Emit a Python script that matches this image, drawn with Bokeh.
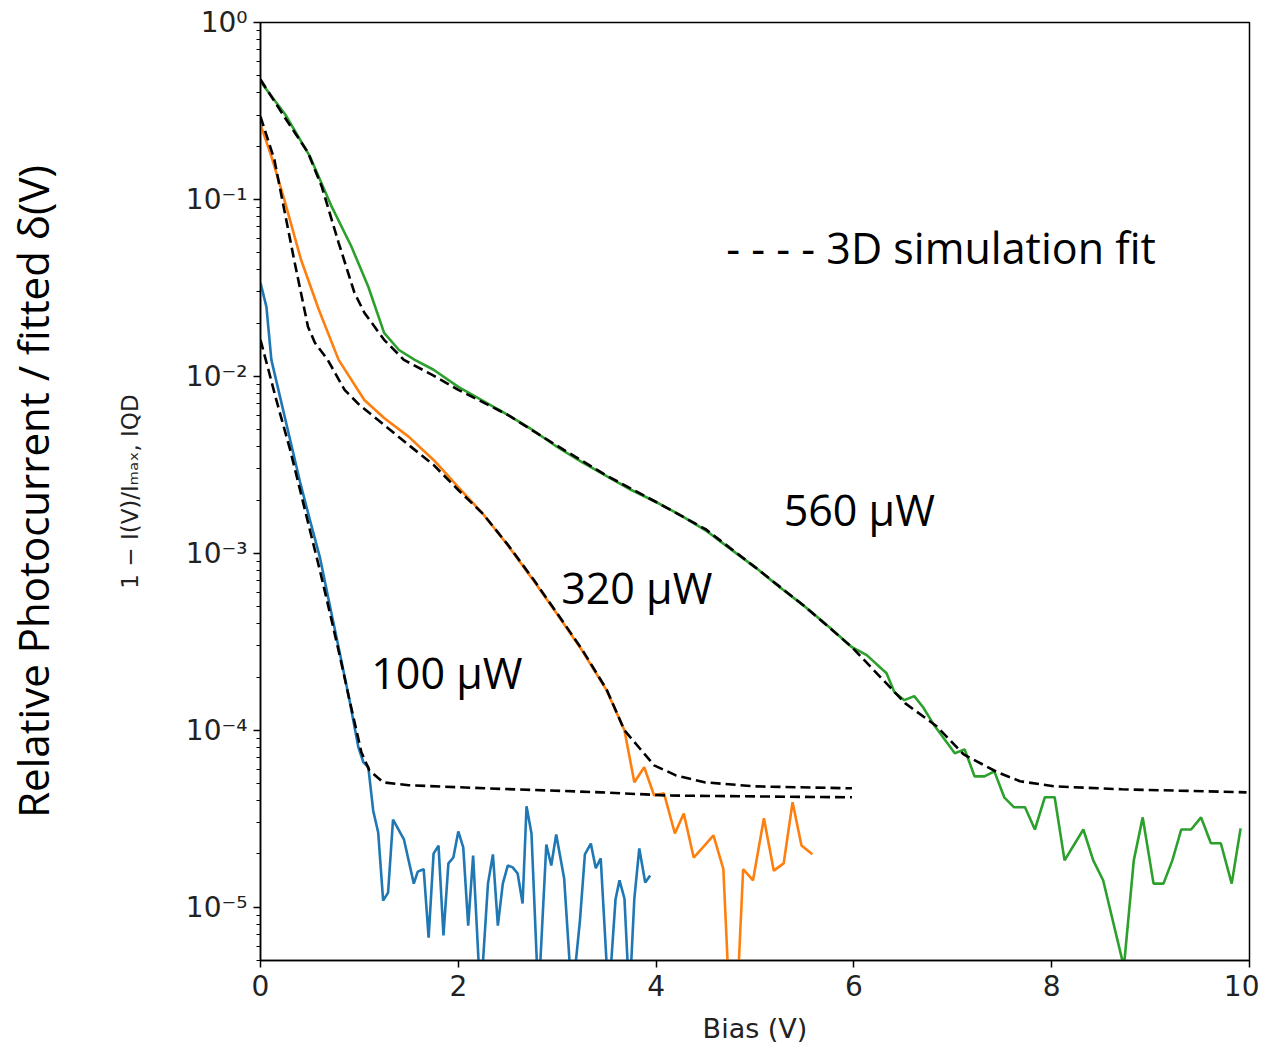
from bokeh.plotting import figure
from bokeh.models import Range1d, FixedTicker, LogTicker, CustomJSTickFormatter, LogAxis, Label
from bokeh.embed import file_html
from bokeh.resources import INLINE

# ---------------- data ----------------
x_ticks = [0, 2, 4, 6, 8, 10]
y_decades = [1e-5, 1e-4, 1e-3, 1e-2, 1e-1, 1.0]

# 100 uW measured
blue_v = [0.0, 0.06, 0.11, 0.2, 0.3, 0.4, 0.5, 0.6, 0.7, 0.8,
          0.9, 0.99, 1.04, 1.09, 1.14, 1.19, 1.24, 1.29, 1.34, 1.40,
          1.45, 1.55, 1.59, 1.65, 1.70, 1.75, 1.80, 1.85, 1.90, 1.95,
          2.00, 2.05, 2.10, 2.15, 2.225, 2.30, 2.35, 2.40, 2.45, 2.50,
          2.55, 2.60, 2.65, 2.69, 2.74, 2.81, 2.89, 2.94, 2.99, 3.07,
          3.15, 3.23, 3.28, 3.34, 3.39, 3.44, 3.52, 3.59, 3.63, 3.68,
          3.73, 3.78, 3.83, 3.89, 3.94]
blue_y = [0.0338, 0.0247, 0.0124, 0.00756, 0.00437, 0.00253, 0.00154, 0.000953, 0.00051, 0.000276,
          0.000148, 8.0e-5, 6.6e-5, 6.2e-5, 3.5e-5, 2.65e-5, 1.09e-5, 1.21e-5, 3.13e-5, 2.72e-5,
          2.42e-5, 1.36e-5, 1.59e-5, 1.64e-5, 6.74e-6, 2.01e-5, 2.23e-5, 6.92e-6, 1.77e-5, 1.91e-5,
          2.68e-5, 2.18e-5, 7.88e-6, 1.96e-5, 3.0e-6, 1.36e-5, 1.99e-5, 7.88e-6, 1.36e-5, 1.72e-5,
          1.68e-5, 1.55e-5, 1.05e-5, 3.72e-5, 2.61e-5, 3.0e-6, 2.26e-5, 1.72e-5, 2.58e-5, 1.46e-5,
          3.0e-6, 8.41e-6, 1.99e-5, 2.29e-5, 1.66e-5, 1.89e-5, 3.0e-6, 1.11e-5, 1.42e-5, 1.12e-5,
          3.0e-6, 1.12e-5, 2.15e-5, 1.38e-5, 1.51e-5]

# 320 uW measured
orange_v = [0.0, 0.11, 0.24, 0.41, 0.59, 0.79, 1.05, 1.25, 1.5, 1.75,
            2.0, 2.25, 2.5, 2.75, 3.0, 3.25, 3.5, 3.68, 3.78, 3.88,
            3.98, 4.08, 4.19, 4.28, 4.38, 4.48, 4.58, 4.68, 4.78, 4.88,
            4.98, 5.09, 5.19, 5.29, 5.38, 5.47, 5.58]
orange_y = [0.265, 0.175, 0.100, 0.0456, 0.0238, 0.0124, 0.00736, 0.00582, 0.00455, 0.00337,
            0.00237, 0.00167, 0.00111, 0.000715, 0.000453, 0.000283, 0.000168, 0.0001, 5.08e-5, 6.18e-5,
            4.28e-5, 4.4e-5, 2.61e-5, 3.39e-5, 1.91e-5, 2.2e-5, 2.55e-5, 1.64e-5, 1.0e-6, 1.64e-5,
            1.42e-5, 3.18e-5, 1.61e-5, 1.77e-5, 3.92e-5, 2.23e-5, 1.99e-5]

# 560 uW measured
green_v = [0.0, 0.25, 0.5, 0.72, 0.92, 1.09, 1.25, 1.4, 1.56, 1.75,
           2.0, 2.25, 2.5, 2.75, 3.0, 3.25, 3.5, 3.75, 4.0, 4.25,
           4.5, 4.75, 5.0, 5.25, 5.5, 5.75, 5.98, 6.13, 6.33, 6.41,
           6.51, 6.61, 6.70, 6.81, 7.02, 7.12, 7.22, 7.32, 7.42, 7.52,
           7.62, 7.73, 7.83, 7.93, 8.03, 8.13, 8.32, 8.42, 8.52, 8.73,
           8.83, 8.92, 9.03, 9.13, 9.22, 9.31, 9.41, 9.51, 9.61, 9.71,
           9.82, 9.91]
green_y = [0.464, 0.302, 0.175, 0.091, 0.054, 0.0321, 0.0176, 0.0141, 0.0124, 0.0109,
           0.00872, 0.00727, 0.00606, 0.00498, 0.00399, 0.00328, 0.00273, 0.00228, 0.00195, 0.00164,
           0.00135, 0.00106, 0.000836, 0.000644, 0.000503, 0.000383, 2.95e-4, 2.66e-4, 2.10e-4, 1.64e-4,
           1.48e-4, 1.56e-4, 1.35e-4, 1.07e-4, 7.41e-5, 7.80e-5, 5.49e-5, 5.49e-5, 5.86e-5, 4.18e-5,
           3.67e-5, 3.67e-5, 2.75e-5, 4.18e-5, 4.18e-5, 1.84e-5, 2.75e-5, 1.84e-5, 1.42e-5, 4.6e-6,
           1.84e-5, 3.22e-5, 1.36e-5, 1.36e-5, 1.84e-5, 2.75e-5, 2.75e-5, 3.22e-5, 2.30e-5, 2.30e-5,
           1.36e-5, 2.79e-5]

# 3D simulation fits
fit100_v = [0.0, 0.08, 0.16, 0.3, 0.4, 0.5, 0.6, 0.7, 0.8, 0.9,
            0.97, 1.02, 1.1, 1.24, 1.5, 2.27, 3.45, 4.12, 5.0, 5.98]
fit100_y = [0.0161, 0.0109, 0.00736, 0.00384, 0.00228, 0.00135, 0.000804, 0.000465, 0.000266, 0.000148,
            0.0001, 7.51e-5, 5.94e-5, 5.08e-5, 4.89e-5, 4.7e-5, 4.46e-5, 4.28e-5, 4.23e-5, 4.18e-5]

fit320_v = [0.0, 0.14, 0.24, 0.34, 0.48, 0.55, 0.68, 0.85, 1.0, 1.25,
            1.5, 1.75, 2.0, 2.25, 2.5, 2.75, 3.0, 3.25, 3.5, 3.68,
            3.98, 4.2, 4.49, 5.0, 5.98]
fit320_y = [0.294, 0.168, 0.0875, 0.0456, 0.0191, 0.0155, 0.0124, 0.00839, 0.0069, 0.00532,
            0.00409, 0.00316, 0.00228, 0.00167, 0.00112, 0.000725, 0.000458, 0.000287, 0.00017, 0.0001,
            6.34e-5, 5.56e-5, 5.08e-5, 4.82e-5, 4.7e-5]

fit560_v = [0.0, 0.24, 0.48, 0.62, 0.79, 0.95, 1.05, 1.25, 1.45, 1.75,
            2.0, 2.5, 3.0, 3.5, 4.0, 4.5, 5.0, 5.5, 5.98, 6.52,
            6.84, 7.11, 7.45, 7.68, 8.03, 8.71, 9.97]
fit560_y = [0.476, 0.294, 0.184, 0.118, 0.0569, 0.0297, 0.0229, 0.0161, 0.0124, 0.0101,
            0.0084, 0.00606, 0.00405, 0.00275, 0.00195, 0.00137, 0.000836, 0.000503, 2.95e-4, 1.42e-4,
            1.05e-4, 7.3e-5, 5.8e-5, 5.15e-5, 4.82e-5, 4.64e-5, 4.46e-5]

labels = ["100 µW", "320 µW", "560 µW"]
fit_label = "- - - - 3D simulation fit"

# ---------------- figure ----------------
p = figure(frame_width=989, frame_height=938,
           x_range=Range1d(0, 10), y_range=Range1d(5.0e-6, 1.0),
           y_axis_type="log", output_backend="svg", toolbar_location=None,
           min_border_left=259, min_border_right=10, min_border_top=22, min_border_bottom=80)
p.grid.visible = False
p.outline_line_color = "black"
p.outline_line_width = 1.5
p.background_fill_color = "white"
p.border_fill_color = "white"

tick_font = "DejaVu Sans"

xa = p.xaxis[0]
xa.ticker = FixedTicker(ticks=x_ticks)
xa.axis_label = "Bias (V)"
xa.axis_label_text_font = tick_font
xa.axis_label_text_font_size = "27px"
xa.axis_label_text_font_style = "normal"
xa.axis_label_text_color = "#222222"
xa.axis_label_standoff = 14
xa.major_label_text_font = tick_font
xa.major_label_text_font_size = "28px"
xa.major_label_text_color = "#222222"
xa.major_label_standoff = 7
xa.major_tick_out = 7
xa.major_tick_in = 0
xa.minor_tick_line_color = None
xa.axis_line_width = 1.5
xa.major_tick_line_width = 1.5

ya = p.yaxis[0]
ya.ticker = LogTicker(num_minor_ticks=10, mantissas=[1])
ya.formatter = CustomJSTickFormatter(code="""
const sup = {'-':'\u207b','0':'\u2070','1':'\u00b9','2':'\u00b2','3':'\u00b3','4':'\u2074',
             '5':'\u2075','6':'\u2076','7':'\u2077','8':'\u2078','9':'\u2079'};
const e = Math.round(Math.log10(tick));
return '10' + String(e).split('').map(c => sup[c]).join('');
""")
ya.axis_label = "1 − I(V)/Iₘₐₓ, IQD"
ya.axis_label_text_font = tick_font
ya.axis_label_text_font_size = "23px"
ya.axis_label_text_font_style = "normal"
ya.axis_label_text_color = "#222222"
ya.axis_label_standoff = 40
ya.major_label_text_font = tick_font
ya.major_label_text_font_size = "28px"
ya.major_label_text_color = "#222222"
ya.major_label_standoff = 6
ya.major_tick_out = 7
ya.major_tick_in = 0
ya.minor_tick_out = 4
ya.minor_tick_in = 0
ya.minor_tick_line_color = "black"
ya.axis_line_width = 1.5
ya.major_tick_line_width = 1.5
ya.minor_tick_line_width = 1.2

# outer axis carrying only the large label
outer = LogAxis(ticker=FixedTicker(ticks=[]), axis_label="Relative Photocurrent / fitted δ(V)",
                axis_label_text_font="Open Sans", axis_label_text_font_size="42px",
                axis_label_text_font_style="normal", axis_label_text_color="black",
                axis_label_standoff=53, axis_line_color=None,
                major_tick_line_color=None, minor_tick_line_color=None,
                major_tick_out=0, minor_tick_out=0, major_label_standoff=0,
                major_label_text_font_size="0px")
p.add_layout(outer, "left")

# measured curves
lw = 2.6
p.line(blue_v, blue_y, line_color="#1f77b4", line_width=lw)
p.line(orange_v, orange_y, line_color="#ff7f0e", line_width=lw)
p.line(green_v, green_y, line_color="#2ca02c", line_width=lw)

# fits (dashed, on top)
for fv, fy in [(fit100_v, fit100_y), (fit320_v, fit320_y), (fit560_v, fit560_y)]:
    p.line(fv, fy, line_color="black", line_width=2.6, line_dash="10 5")

# annotations
label_pos = [(1.12, 2.13e-4), (3.04, 6.44e-4), (5.29, 1.76e-3)]
for txt, (lx, ly) in zip(labels, label_pos):
    p.add_layout(Label(x=lx, y=ly, text=txt, text_font="Open Sans", text_font_size="43px",
                       text_baseline="middle", text_align="left", text_color="black"))
p.add_layout(Label(x=4.71, y=0.0533, text=fit_label, text_font="Open Sans", text_font_size="43px",
                   text_baseline="middle", text_align="left", text_color="black"))

open("out.html", "w").write(file_html(p, INLINE))
